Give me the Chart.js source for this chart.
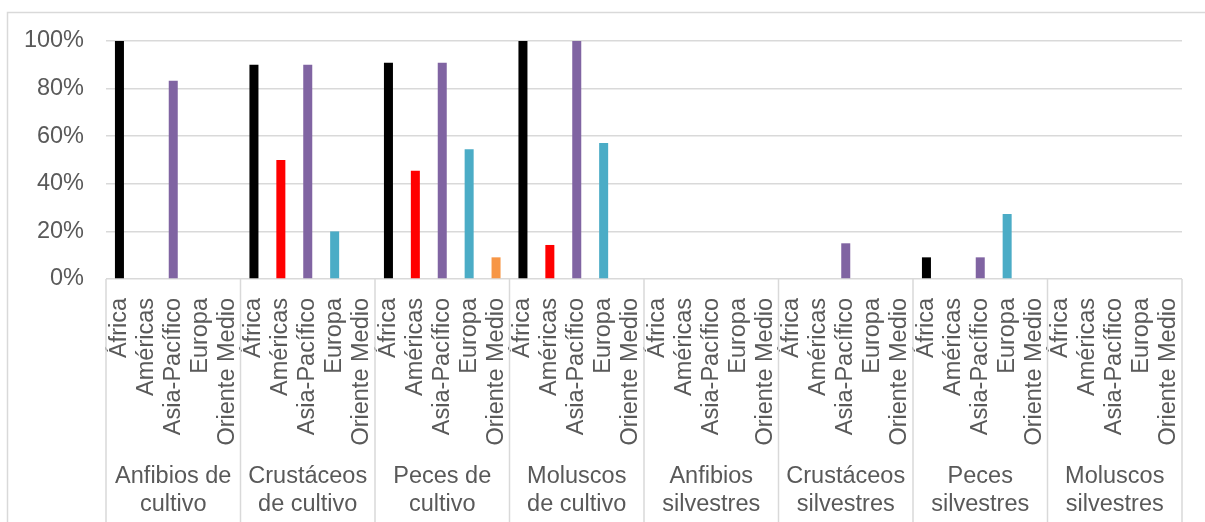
<!DOCTYPE html>
<html>
<head>
<meta charset="utf-8">
<script src="https://cdn.jsdelivr.net/npm/chart.js@4/dist/chart.umd.min.js"></script>
<style>
  html, body { margin: 0; padding: 0; background: #ffffff; }
  #wrap { width: 1205px; height: 522px; position: relative; }
</style>
</head>
<body>
<div id="wrap"><canvas id="c" width="1205" height="522"></canvas></div>
<script>
// Categories
const groups = [
  ['Anfibios de', 'cultivo'],
  ['Crustáceos', 'de cultivo'],
  ['Peces de', 'cultivo'],
  ['Moluscos', 'de cultivo'],
  ['Anfibios', 'silvestres'],
  ['Crustáceos', 'silvestres'],
  ['Peces', 'silvestres'],
  ['Moluscos', 'silvestres']
];
const regions = ['África', 'Américas', 'Asia-Pacífico', 'Europa', 'Oriente Medio'];
const regionColors = ['#000000', '#FF0000', '#8064A2', '#4BACC6', '#F79646'];

// Share per region (%), one value per group
const africa       = [100, 90,  90.9, 100,  0, 0,  9.1, 0];
const americas     = [0,   50,  45.5, 14.3, 0, 0,  0,   0];
const asiaPacifico = [83.3, 90, 90.9, 100,  0, 15, 9.1, 0];
const europa       = [0,   20,  54.5, 57.1, 0, 0,  27.3, 0];
const orienteMedio = [0,   0,   9.1,  0,    0, 0,  0,   0];

// Y axis ticks
const yTicks = [0, 20, 40, 60, 80, 100];

const series = [africa, americas, asiaPacifico, europa, orienteMedio];
const labels = [];
const values = [];
const colors = [];
groups.forEach((g, gi) => {
  regions.forEach((r, ri) => {
    labels.push(r);
    values.push(series[ri][gi]);
    colors.push(regionColors[ri]);
  });
});

const FONT = 'Liberation Sans, Arial, sans-serif';
const TEXT = '#595959';
const LINE = '#d9d9d9';

// Outer frame and the group separators below the axis
const framePlugin = {
  id: 'frame',
  beforeDraw(chart) {
    const ctx = chart.ctx;
    ctx.save();
    ctx.fillStyle = '#ffffff';
    ctx.fillRect(0, 0, chart.width, chart.height);
    ctx.strokeStyle = LINE;
    ctx.lineWidth = 1.5;
    ctx.strokeRect(7.5, 12.5, chart.width + 20, chart.height + 20);
    ctx.restore();
  },
  afterDraw(chart) {
    const ctx = chart.ctx;
    const x = chart.scales.x;
    const y = chart.scales.y;
    const per = regions.length;
    const step = x.width / labels.length;
    ctx.save();
    ctx.strokeStyle = LINE;
    ctx.lineWidth = 1.5;
    for (let g = 0; g <= groups.length; g++) {
      const px = g < groups.length ? x.getPixelForValue(g * per) - step / 2 : x.right;
      ctx.beginPath();
      ctx.moveTo(px, y.bottom);
      ctx.lineTo(px, chart.height);
      ctx.stroke();
    }
    ctx.restore();
  }
};

// Keep the horizontal axes from widening the side margins
function noSidePadding(scale) {
  scale.paddingLeft = 0;
  scale.paddingRight = 0;
}

new Chart(document.getElementById('c'), {
  type: 'bar',
  data: {
    labels: labels,
    datasets: [{
      data: values,
      backgroundColor: colors,
      borderWidth: 0,
      categoryPercentage: 1,
      barPercentage: 0.335
    }]
  },
  options: {
    responsive: false,
    animation: false,
    layout: { padding: { left: 0, right: 23, top: 41, bottom: 0 } },
    plugins: { legend: { display: false }, tooltip: { enabled: false } },
    scales: {
      x: {
        position: 'bottom',
        grid: { display: false },
        border: { display: false },
        ticks: {
          autoSkip: false,
          minRotation: 90,
          maxRotation: 90,
          padding: 11,
          color: TEXT,
          font: { family: FONT, size: 23.5 }
        },
        afterFit(scale) { scale.height = 172; noSidePadding(scale); }
      },
      x2: {
        type: 'category',
        position: 'bottom',
        labels: groups,
        offset: true,
        grid: { display: false },
        border: { display: false },
        ticks: {
          autoSkip: false,
          maxRotation: 0,
          minRotation: 0,
          padding: 3,
          color: TEXT,
          font: { family: FONT, size: 23.5, lineHeight: 1.2 }
        },
        afterFit(scale) { scale.height = 71; noSidePadding(scale); }
      },
      y: {
        min: 0,
        max: 100,
        afterBuildTicks(scale) { scale.ticks = yTicks.map(v => ({ value: v })); },
        grid: { color: LINE, lineWidth: 1.5, drawTicks: false },
        border: { display: false },
        ticks: {
          padding: 22,
          color: TEXT,
          font: { family: FONT, size: 23.5 },
          callback: v => v + '%'
        },
        afterFit(scale) { scale.width = 106; }
      }
    }
  },
  plugins: [framePlugin]
});
</script>
</body>
</html>
